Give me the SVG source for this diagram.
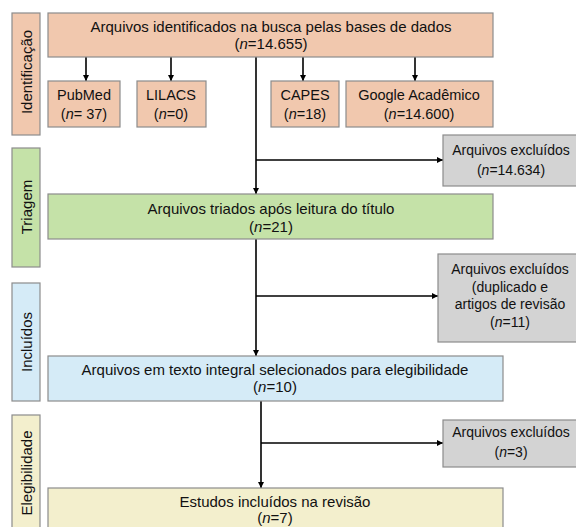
<svg xmlns="http://www.w3.org/2000/svg" width="576" height="527" viewBox="0 0 576 527">
<defs>
<marker id="ah" viewBox="0 0 10 10" refX="10" refY="5" markerWidth="6" markerHeight="6" orient="auto" markerUnits="userSpaceOnUse">
<path d="M0,0 L10,5 L0,10 z" fill="#000"/>
</marker>
<style>
text{font-family:"Liberation Sans",Arial,sans-serif;font-size:15px;fill:#111;text-anchor:middle}
.s{font-size:14.5px}
.x{font-size:14px}
.b{stroke:#8c8c8c;stroke-width:1.2}
.id{fill:#f1c8ae}.tr{fill:#c5e2a8}.in{fill:#d5ebf7}.el{fill:#f3efcd}.ex{fill:#d3d3d3}
.ca{fill:none;stroke:#000;stroke-width:1.6;marker-end:url(#ah)}
</style>
</defs>
<g id="phase-identificacao"><rect class="b id" x="12" y="13" width="28" height="122"/><text transform="translate(32,72) rotate(-90)">Identificação</text></g>
<g id="phase-triagem"><rect class="b tr" x="12" y="148" width="28" height="119"/><text transform="translate(32,207) rotate(-90)">Triagem</text></g>
<g id="phase-incluidos"><rect class="b in" x="12" y="283" width="28" height="118"/><text transform="translate(32,342) rotate(-90)">Incluídos</text></g>
<g id="phase-elegibilidade"><rect class="b el" x="12" y="415" width="28" height="120"/><text transform="translate(32,473) rotate(-90)">Elegibilidade</text></g>

<g id="connectors">
<line class="ca" x1="86" y1="57" x2="86" y2="81"/>
<line class="ca" x1="171" y1="57" x2="171" y2="81"/>
<line class="ca" x1="303" y1="57" x2="303" y2="81"/>
<line class="ca" x1="415" y1="57" x2="415" y2="81"/>
<line class="ca" x1="256" y1="57" x2="256" y2="194"/>
<line class="ca" x1="256" y1="160" x2="443" y2="160"/>
<line class="ca" x1="256" y1="239" x2="256" y2="356"/>
<line class="ca" x1="256" y1="296" x2="438" y2="296"/>
<line class="ca" x1="261" y1="401" x2="261" y2="488"/>
<line class="ca" x1="261" y1="443" x2="443" y2="443"/>
</g>

<g id="n-identificados"><rect class="b id" x="48" y="13" width="445" height="44"/><text x="271" y="32">Arquivos identificados na busca pelas bases de dados</text><text x="271" y="49">(<tspan font-style="italic">n</tspan>=14.655)</text></g>
<g id="n-pubmed"><rect class="b id" x="48" y="81" width="72" height="46"/><text class="s" x="84" y="100">PubMed</text><text class="s" x="84" y="119">(<tspan font-style="italic">n</tspan>= 37)</text></g>
<g id="n-lilacs"><rect class="b id" x="137" y="81" width="69" height="46"/><text class="s" x="171" y="100">LILACS</text><text class="s" x="171" y="119">(<tspan font-style="italic">n</tspan>=0)</text></g>
<g id="n-capes"><rect class="b id" x="271" y="81" width="68" height="46"/><text class="s" x="305" y="100">CAPES</text><text class="s" x="305" y="119">(<tspan font-style="italic">n</tspan>=18)</text></g>
<g id="n-google"><rect class="b id" x="346" y="81" width="147" height="46"/><text class="s" x="419" y="100">Google Acadêmico</text><text class="s" x="419" y="119">(<tspan font-style="italic">n</tspan>=14.600)</text></g>
<g id="n-excl1"><rect class="b ex" x="443" y="135" width="140" height="51"/><text class="x" x="511" y="155">Arquivos excluídos</text><text class="x" x="511" y="175">(<tspan font-style="italic">n</tspan>=14.634)</text></g>
<g id="n-triados"><rect class="b tr" x="48" y="194" width="445" height="45"/><text x="271" y="214">Arquivos triados após leitura do título</text><text x="271" y="232">(<tspan font-style="italic">n</tspan>=21)</text></g>
<g id="n-excl2"><rect class="b ex" x="438" y="254" width="145" height="88"/><text class="x" x="510" y="274">Arquivos excluídos</text><text class="x" x="510" y="292">(duplicado e</text><text class="x" x="510" y="309">artigos de revisão</text><text class="x" x="510" y="327">(<tspan font-style="italic">n</tspan>=11)</text></g>
<g id="n-texto"><rect class="b in" x="48" y="356" width="455" height="45"/><text x="275" y="375">Arquivos em texto integral selecionados para elegibilidade</text><text x="275" y="392">(<tspan font-style="italic">n</tspan>=10)</text></g>
<g id="n-excl3"><rect class="b ex" x="443" y="420" width="140" height="47"/><text class="x" x="511" y="437">Arquivos excluídos</text><text class="x" x="511" y="457">(<tspan font-style="italic">n</tspan>=3)</text></g>
<g id="n-estudos"><rect class="b el" x="48" y="488" width="455" height="50"/><text x="275" y="507">Estudos incluídos na revisão</text><text x="275" y="523">(<tspan font-style="italic">n</tspan>=7)</text></g>
</svg>
